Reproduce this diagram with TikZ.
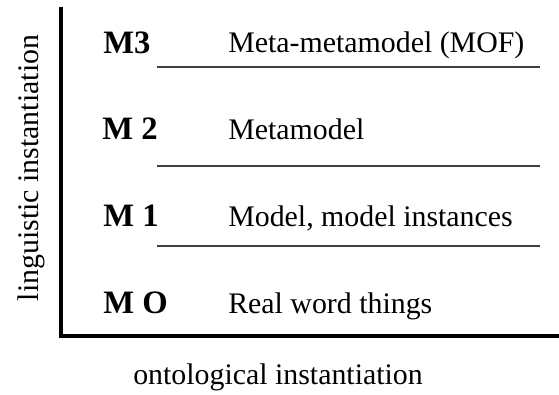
\documentclass[tikz,border=0pt]{standalone}
\usepackage{fontspec}
\setmainfont{Liberation Serif}
\begin{document}
\begin{tikzpicture}[x=0.75pt,y=-0.75pt,
  lvl node/.style={anchor=base west,inner sep=0pt,font=\fontsize{24.5}{28}\selectfont\bfseries},
  desc node/.style={anchor=base west,inner sep=0pt,font=\fontsize{22.4}{26}\selectfont},
  axis/.style={line width=3pt},
  sep/.style={line width=1pt,draw=black!75}]

  \useasboundingbox (0,0) rectangle (559,395);

  \node[lvl node] (m3) at (103,54) {M3};
  \node[lvl node] (m2) at (102,140) {M 2};
  \node[lvl node] (m1) at (103,226) {M 1};
  \node[lvl node] (m0) at (103,313) {M O};

  \node[desc node] (mof) at (228,53) {Meta-metamodel (MOF)};
  \node[desc node] (meta) at (228,140) {Metamodel};
  \node[desc node] (model) at (228,226) {Model, model instances};
  \node[desc node] (real) at (228,313) {Real word things};

  \draw[sep] (157,67) -- (540,67);
  \draw[sep] (157,166) -- (540,166);
  \draw[sep] (157,246) -- (540,246);

  \draw[axis] (61,7) -- (61,336) -- (559,336);

  \node[desc node,anchor=base] (ling) at (38,168) [rotate=90] {linguistic instantiation};
  \node[desc node] (onto) at (133,384) {ontological instantiation};

\end{tikzpicture}
\end{document}
